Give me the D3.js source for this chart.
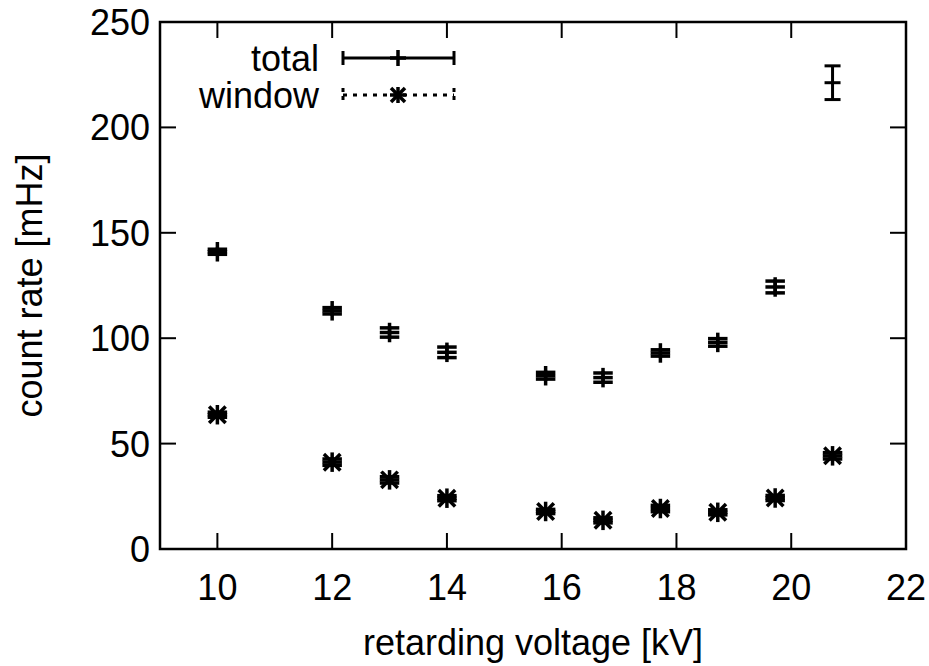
<!DOCTYPE html>
<html>
<head>
<meta charset="utf-8">
<script src="https://cdn.jsdelivr.net/npm/d3@7"></script>
<style>
  html,body{margin:0;padding:0;background:#fff;}
  svg text{font-family:"Liberation Sans",Arial,sans-serif;fill:#000;}
</style>
</head>
<body>
<div id="chart"></div>
<script>
// values
const xTotal   = [10, 12, 13, 14, 15.72, 16.72, 17.72, 18.72, 19.72];
const yTotal   = [141, 113, 102.7, 93.3, 82.2, 81.3, 93, 98, 124.3];
const eTotal   = [1.2, 1.5, 2.2, 2.5, 1.6, 2.2, 1.5, 1.8, 2.8];
const xWindow  = [10, 12, 13, 14, 15.72, 16.72, 17.72, 18.72, 19.72, 20.72];
const yWindow  = [63.7, 41.2, 32.8, 24.1, 17.8, 13.6, 19.2, 17.4, 24.2, 44.2];
const eWindow  = [1.2, 1.5, 1.5, 1.2, 1.0, 1.2, 1.5, 1.2, 1.2, 1.5];
const xSys = [20.72], ySys = [221.2], eSys = [8];
const xTicks = [10, 12, 14, 16, 18, 20, 22];
const yTicks = [0, 50, 100, 150, 200, 250];
const legendLabels = ["total", "window"];

const W = 929, H = 666, m = {l:160, r:23, t:22, b:117};
const svg = d3.select("#chart").append("svg").attr("width",W).attr("height",H);
const x = d3.scaleLinear().domain([9,22]).range([m.l, W-m.r]);
const y = d3.scaleLinear().domain([0,250]).range([H-m.b, m.t]);
const FS = 36, TL = 16, LW = 2.5;

// ticks on all four sides, pointing inward
const g = svg.append("g").attr("stroke","#000").attr("stroke-width",2);
xTicks.slice(0,-1).forEach(v=>{
  g.append("line").attr("x1",x(v)).attr("x2",x(v)).attr("y1",y(0)).attr("y2",y(0)-TL);
  g.append("line").attr("x1",x(v)).attr("x2",x(v)).attr("y1",y(250)).attr("y2",y(250)+TL);
});
yTicks.slice(1,-1).forEach(v=>{
  g.append("line").attr("x1",x(9)).attr("x2",x(9)+TL).attr("y1",y(v)).attr("y2",y(v));
  g.append("line").attr("x1",x(22)).attr("x2",x(22)-TL).attr("y1",y(v)).attr("y2",y(v));
});
svg.append("rect").attr("x",x(9)).attr("y",y(250)).attr("width",x(22)-x(9)).attr("height",y(0)-y(250))
  .attr("fill","none").attr("stroke","#000").attr("stroke-width",LW);

svg.append("g").selectAll("text").data(xTicks).join("text")
  .attr("x",d=>x(d)).attr("y",y(0)+51).attr("text-anchor","middle").attr("font-size",FS).text(d=>d);
svg.append("g").selectAll("text").data(yTicks).join("text")
  .attr("x",m.l-10).attr("y",d=>y(d)).attr("dy","0.36em").attr("text-anchor","end").attr("font-size",FS).text(d=>d);

svg.append("text").attr("transform",`translate(42,${(y(0)+y(250))/2}) rotate(-90)`)
  .attr("text-anchor","middle").attr("font-size",FS).text("count rate [mHz]");
svg.append("text").attr("x",(x(9)+x(22))/2).attr("y",655)
  .attr("text-anchor","middle").attr("font-size",FS).text("retarding voltage [kV]");

// markers
function plus(sel, cx, cy){
  sel.append("line").attr("x1",cx-8).attr("x2",cx+8).attr("y1",cy).attr("y2",cy);
  sel.append("line").attr("x1",cx).attr("x2",cx).attr("y1",cy-8).attr("y2",cy+8);
}
function star(sel, cx, cy){
  plus(sel, cx, cy);
  sel.append("line").attr("x1",cx-7).attr("x2",cx+7).attr("y1",cy-7).attr("y2",cy+7);
  sel.append("line").attr("x1",cx-7).attr("x2",cx+7).attr("y1",cy+7).attr("y2",cy-7);
}
function errbar(sel, cx, v, e, dash){
  const s = sel.append("g").attr("stroke-dasharray",dash||null);
  s.append("line").attr("x1",cx).attr("x2",cx).attr("y1",y(v-e)).attr("y2",y(v+e));
  [v-e, v+e].forEach(t=>s.append("line").attr("x1",cx-8).attr("x2",cx+8).attr("y1",y(t)).attr("y2",y(t)));
}

const pts = svg.append("g").attr("stroke","#000").attr("stroke-width",3.5).attr("stroke-linecap","square");
xTotal.forEach((v,i)=>{ errbar(pts, x(v), yTotal[i], eTotal[i]); plus(pts, x(v), y(yTotal[i])); });
xWindow.forEach((v,i)=>{ errbar(pts, x(v), yWindow[i], eWindow[i]); star(pts, x(v), y(yWindow[i])); });

// representative error bar, top right
const sys = svg.append("g").attr("stroke","#000").attr("stroke-width",3);
xSys.forEach((v,i)=>{
  errbar(sys, x(v), ySys[i], eSys[i]);
  sys.append("line").attr("x1",x(v)-8).attr("x2",x(v)+8).attr("y1",y(ySys[i])).attr("y2",y(ySys[i]));
});

// legend
const lg = svg.append("g");
const lx0 = 343, lx1 = 454, lxm = 398, ly = [58, 95];
legendLabels.forEach((t,i)=>{
  lg.append("text").attr("x",319).attr("y",ly[i]).attr("dy","0.35em").attr("text-anchor","end").attr("font-size",FS).text(t);
  const s = lg.append("g").attr("stroke","#000").attr("stroke-width",3)
    .attr("stroke-dasharray", i ? "4,6" : null);
  s.append("line").attr("x1",lx0).attr("x2",lx1).attr("y1",ly[i]).attr("y2",ly[i]);
  s.append("line").attr("x1",lx0).attr("x2",lx0).attr("y1",ly[i]-7).attr("y2",ly[i]+7).attr("stroke-dasharray",i?"4,4":null);
  s.append("line").attr("x1",lx1).attr("x2",lx1).attr("y1",ly[i]-7).attr("y2",ly[i]+7).attr("stroke-dasharray",i?"4,4":null);
  const mk = lg.append("g").attr("stroke","#000").attr("stroke-width",3.5);
  i ? star(mk, lxm, ly[i]) : plus(mk, lxm, ly[i]);
});
</script>
</body>
</html>
